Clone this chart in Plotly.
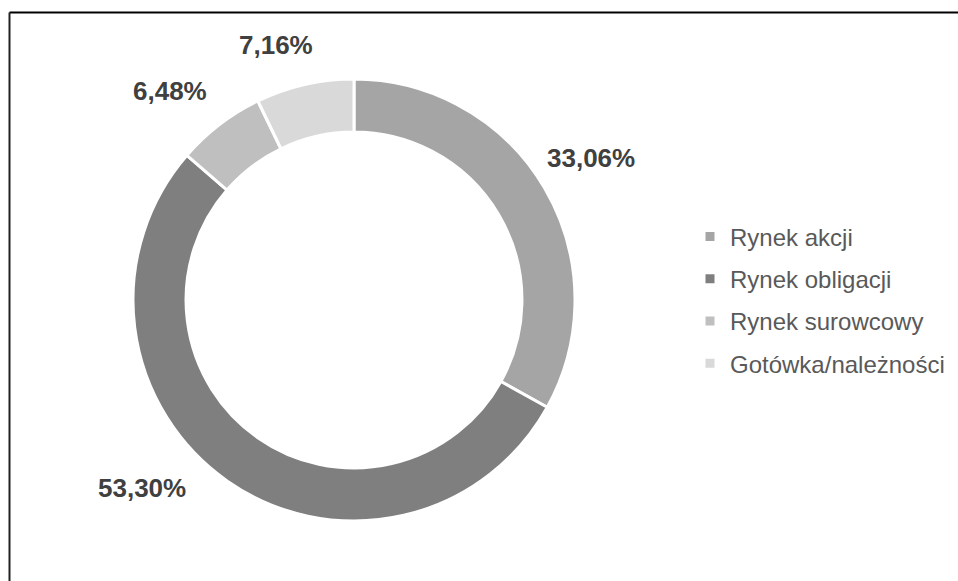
import plotly.graph_objects as go

W, H = 958, 581

categories = ["Rynek akcji", "Rynek obligacji", "Rynek surowcowy", "Gotówka/należności"]
values = [33.06, 53.30, 6.48, 7.16]
colors = ["#a5a5a5", "#7f7f7f", "#bfbfbf", "#d9d9d9"]

# label anchor positions in pixels (layout only)
label_px = [(591, 158), (142, 488), (170, 91), (276, 45)]

fig = go.Figure()
fig.add_trace(go.Pie(
    labels=categories,
    values=values,
    hole=0.76,
    sort=False,
    direction="clockwise",
    rotation=0,
    marker=dict(colors=colors, line=dict(color="white", width=3)),
    textinfo="none",
    hoverinfo="label+percent",
    showlegend=False,
    domain=dict(x=[133 / W, 575 / W], y=[1 - 521 / H, 1 - 79 / H]),
))

# legend entries
for i, (cat, col) in enumerate(zip(categories, colors)):
    fig.add_trace(go.Scatter(
        x=[None], y=[None], mode="markers", name=cat,
        marker=dict(symbol="square", size=9, color=col),
        legendgroup=f"g{i}", showlegend=True,
    ))

annotations = []
for v, (px, py) in zip(values, label_px):
    annotations.append(dict(
        x=px / W, y=1 - py / H, xref="paper", yref="paper",
        text=f"<b>{v:.2f}%</b>".replace(".", ","),
        showarrow=False, xanchor="center", yanchor="middle",
        font=dict(family="Liberation Sans, Arial, sans-serif", size=26, color="#404040"),
    ))

fig.update_layout(
    width=W, height=H,
    margin=dict(l=0, r=0, t=0, b=0),
    paper_bgcolor="white", plot_bgcolor="white",
    xaxis=dict(visible=False), yaxis=dict(visible=False),
    legend=dict(
        x=690 / W, y=1 - 300 / H, xanchor="left", yanchor="middle",
        font=dict(family="Liberation Sans, Arial, sans-serif", size=24, color="#595959"),
        tracegroupgap=8, bgcolor="rgba(0,0,0,0)",
    ),
    annotations=annotations,
    shapes=[
        dict(type="line", xref="paper", yref="paper",
             x0=9.5 / W, x1=1, y0=1 - 12.5 / H, y1=1 - 12.5 / H,
             line=dict(color="#000000", width=2)),
        dict(type="line", xref="paper", yref="paper",
             x0=9.5 / W, x1=9.5 / W, y0=0, y1=1 - 12.5 / H,
             line=dict(color="#222222", width=2)),
    ],
)

fig.write_html("out.html")
